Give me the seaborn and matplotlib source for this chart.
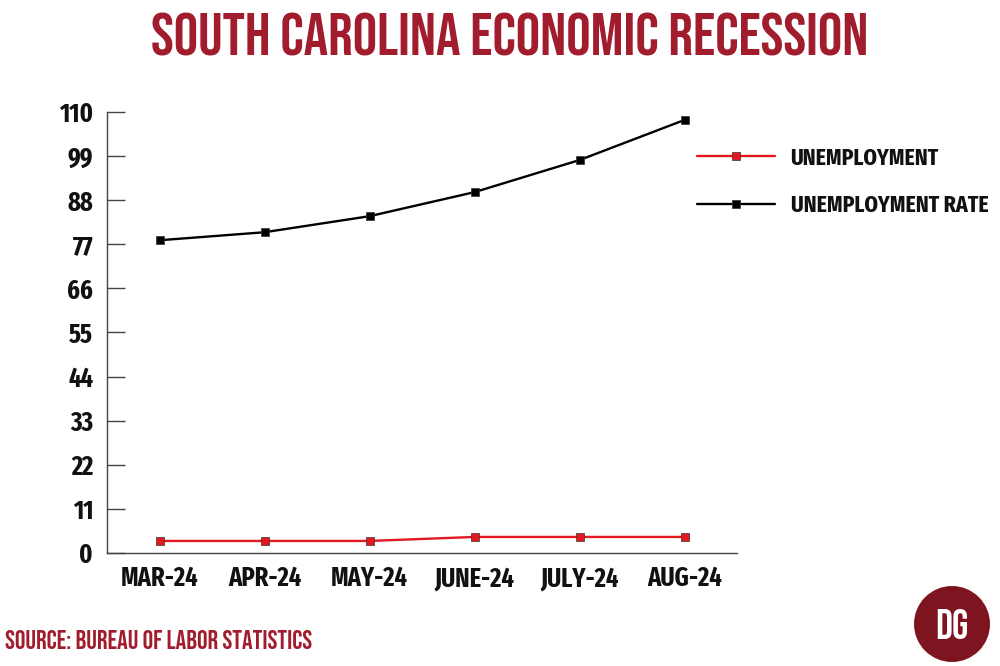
import pandas as pd
import numpy as np
import matplotlib
matplotlib.use("Agg")
import matplotlib.pyplot as plt
from matplotlib.patches import Circle
import seaborn as sns

# Chart data
months = ["MAR-24", "APR-24", "MAY-24", "JUNE-24", "JULY-24", "AUG-24"]
unemployment = [3, 3, 3, 4, 4, 4]
unemployment_rate = [78, 80, 84, 90, 98, 108]
series_names = ["UNEMPLOYMENT", "UNEMPLOYMENT RATE"]
y_ticks = [0, 11, 22, 33, 44, 55, 66, 77, 88, 99, 110]

df = pd.DataFrame({
    "month": months * 2,
    "value": unemployment + unemployment_rate,
    "series": [series_names[0]] * len(months) + [series_names[1]] * len(months),
})

sns.set_style("white")
plt.rcParams['font.family'] = ['Fira Sans Extra Condensed', 'DejaVu Sans']
plt.rcParams['font.weight'] = 'bold'
plt.rcParams['text.color'] = '#111111'
plt.rcParams['xtick.color'] = '#111111'
plt.rcParams['ytick.color'] = '#111111'

DARK_RED = "#a11d2e"
palette = {series_names[0]: "#e3191f", series_names[1]: "#000000"}

fig = plt.figure(figsize=(10, 6.66), dpi=100)
ax = fig.add_axes([0.107, 0.1697, 0.63, 0.6622])

sns.lineplot(data=df, x="month", y="value", hue="series", palette=palette,
             marker="s", markersize=5.5, linewidth=1.7, sort=False, ax=ax,
             markeredgecolor="#333333", markeredgewidth=0.5)

ax.set_xlim(-0.5, 5.5)
ax.set_ylim(0, 110)
ax.set_yticks(y_ticks)
ax.set_xticks(range(len(months)))
ax.set_xticklabels(months)
ax.set_xticks(np.arange(0.5, 6.0, 1.0), minor=True)
ax.tick_params(axis="x", which="major", length=0, pad=9, labelsize=19)
ax.tick_params(axis="x", which="minor", direction="in", length=11, width=1, color="#444444")
ax.tick_params(axis="y", direction="in", length=13, width=1, color="#444444", labelsize=19, pad=10, left=True)
ax.set_xlabel("")
ax.set_ylabel("")
sns.despine(ax=ax)
for s in ["left", "bottom"]:
    ax.spines[s].set_color("#444444")
    ax.spines[s].set_linewidth(1)

leg = ax.legend(loc="upper left", bbox_to_anchor=(0.937, 0.922), frameon=False,
                borderaxespad=0, borderpad=0, fontsize=17, handlelength=3.3,
                labelspacing=1.05, handletextpad=0.65)

fig.text(0.51, 0.948, "SOUTH CAROLINA ECONOMIC RECESSION", ha="center", va="center",
         fontsize=44, color=DARK_RED, family="Bebas Neue", fontweight="normal")
fig.text(0.005, 0.04, "SOURCE: BUREAU OF LABOR STATISTICS", ha="left", va="center",
         fontsize=19, color=DARK_RED, family="Bebas Neue", fontweight="normal")

# DG badge
logo = Circle((952, 42), 38, transform=None, facecolor="#7d1420", edgecolor="none")
fig.patches.append(logo)
fig.text(0.952, 0.063, "DG", ha="center", va="center", fontsize=30,
         color="white", family="Bebas Neue", fontweight="normal")

fig.savefig("out.png", dpi=100)
